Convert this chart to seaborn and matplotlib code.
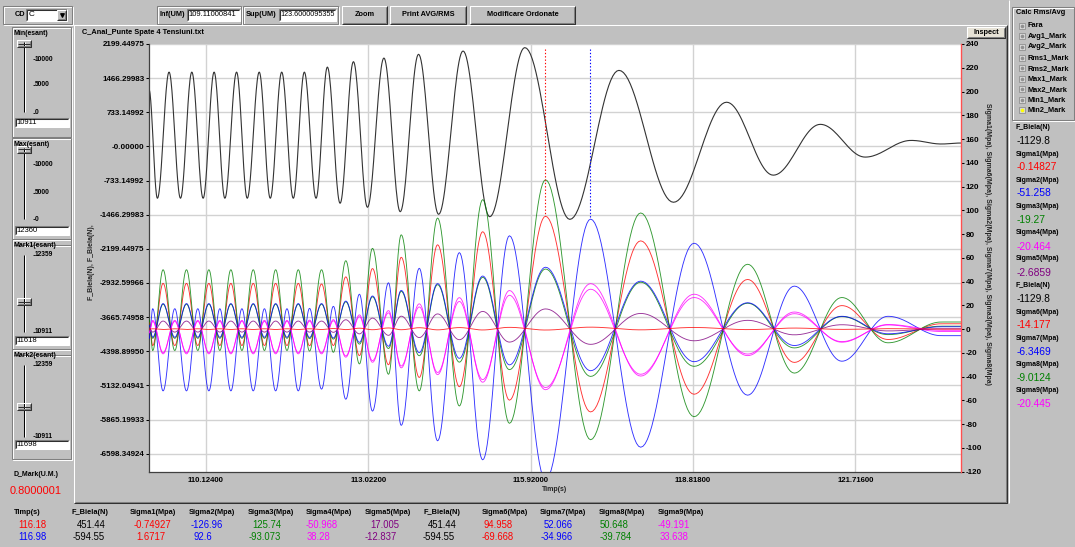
import numpy as np
import pandas as pd
import matplotlib
matplotlib.use("Agg")
import matplotlib.pyplot as plt
from matplotlib.patches import Rectangle
from matplotlib import font_manager
import seaborn as sns

# ---------------- data ----------------
x_range = [109.11000841, 123.6000095355]
x_tick_labels = ["110.12400", "113.02200", "115.92000", "118.81800", "121.71600"]
left_tick_labels = ["2199.44975", "1466.29983", "733.14992", "-0.00000", "-733.14992",
                    "-1466.29983", "-2199.44975", "-2932.59966", "-3665.74958",
                    "-4398.89950", "-5132.04941", "-5865.19933", "-6598.34924"]
left_range = [-6985.0, 2199.44975]
right_ticks = [240, 220, 200, 180, 160, 140, 120, 100, 80, 60, 40, 20, 0,
               -20, -40, -60, -80, -100, -120]
right_range = [-120, 240]

# F_Biela(N): extrema (time, value)
t_force = [109.11, 109.260, 109.468, 109.672, 109.874, 110.076, 110.272, 110.464,
           110.673, 110.863, 111.077, 111.274, 111.478, 111.685, 111.882, 112.091,
           112.293, 112.520, 112.758, 113.008, 113.302, 113.593, 113.920, 114.278,
           114.714, 115.190, 115.816, 116.620, 117.496, 118.469, 119.417, 120.250,
           121.090, 121.890, 122.712, 123.249, 123.60]
f_biela = [1222, -1113, 1596, -1113, 1596, -1113, 1596, -1113, 1596, -1113, 1596,
           -1113, 1596, -1113, 1596, -1113, 1704, -1221, 1820, -1307, 1898, -1402,
           1978, -1458, 2049, -1510, 2122, -1566, 1633, -1199, 949, -617, 474, -229,
           129, 52, 73]

# Sigma series (Mpa): extrema at shared times
t_sigma = [109.11, 109.176, 109.361, 109.570, 109.779, 109.981, 110.178, 110.374,
           110.571, 110.768, 110.970, 111.170, 111.370, 111.572, 111.774, 111.975,
           112.189, 112.400, 112.622, 112.865, 113.098, 113.384, 113.611, 113.933,
           114.260, 114.648, 115.065, 115.542, 116.186, 116.990, 117.884, 118.837,
           119.792, 120.626, 121.473, 122.296, 123.249, 123.60]
sigma1 = [0, 0.3, -0.3, 0.3, -0.3, 0.3, -0.3, 0.3, -0.3, 0.3, -0.3, 0.3, -0.3, 0.3,
          -0.3, 0.3, -0.3, 0.5, -0.4, 0.8, -0.5, 1.0, -0.5, 1.2, -0.6, 1.3, -0.7, 1.5,
          -0.75, 1.67, -0.6, 1.4, -0.4, 0.9, -0.2, 0.4, 0, 0]
sigma6 = [6, -13.8, 38.5, -13.8, 38.5, -13.8, 38.5, -13.8, 38.5, -13.8, 38.5, -13.8,
          38.5, -13.8, 38.5, -14, 38, -13.8, 44, -22.3, 51, -30, 60.5, -40.7, 71,
          -48.5, 82, -59.8, 95, -69.7, 74.3, -54.8, 41.8, -28, 19.8, -8.7, 4.5, 4.5]
sigma2 = [-8, 17.2, -52, 17.2, -52, 17.2, -52, 17.2, -52, 17.2, -52, 17.2, -52, 17.2,
          -52, 17.5, -50.5, 19.2, -59, 29.4, -69, 39, -81, 51.2, -94, 64.4, -110,
          78.6, -127, 92.6, -99.4, 72.3, -55.6, 36.2, -27, 10.8, -5.5, -5.5]
sigma7 = [3.3, -6.8, 21.5, -6.8, 21.5, -6.8, 21.5, -6.8, 21.5, -6.8, 21.5, -6.8, 21.5,
          -6.8, 21.5, -7, 21.5, -7.4, 23.6, -11.1, 27.9, -14.4, 32.6, -19.8, 38.3,
          -24.6, 44.7, -30.1, 52.1, -35, 40.4, -27.4, 22.2, -13.8, 10.8, -3.9, 2, 2]
sigma3 = [8, -18, 50, -18, 50, -18, 50, -18, 50, -18, 50, -18, 50, -18, 50, -18.5, 50,
          -19.5, 57.6, -29.3, 68, -38, 79.4, -52, 93.5, -64.7, 109, -79.3, 125.7,
          -93.1, 97.8, -73.7, 54.6, -37, 26.6, -11.5, 6, 6]
sigma8 = [3.2, -7.7, 21, -7.7, 21, -7.7, 21, -7.7, 21, -7.7, 21, -7.7, 21, -7.7, 21,
          -8, 21, -8.4, 23, -12.6, 27.2, -16.3, 31.8, -22.4, 37.4, -27.8, 43.6, -34.1,
          50.6, -39.8, 39.5, -31.3, 21.8, -15.8, 10.6, -4.6, 2.5, 2.5]
sigma4 = [-3.3, 7.4, -20.8, 7.4, -20.8, 7.4, -20.8, 7.4, -20.8, 7.4, -20.8, 7.4, -20.8,
          7.4, -20.8, 7.6, -20.8, 8, -23.6, 12, -27.9, 15.6, -32.6, 21.3, -38.3, 26.5,
          -44.7, 32.5, -51, 38.3, -39.5, 29.4, -22.3, 14.4, -11, 3.9, -1, -1]
sigma9 = [-3.1, 6.5, -19.8, 6.5, -19.8, 6.5, -19.8, 6.5, -19.8, 6.5, -19.8, 6.5, -19.8,
          6.5, -19.8, 6.7, -19.8, 7, -22.5, 10.5, -26.5, 13.7, -31, 18.7, -36.5, 23.3,
          -42.5, 28.5, -49.2, 33.6, -38, 26.6, -21, 13, -10.5, 3.5, -2, -2]
sigma5 = [1.1, -2.5, 6.8, -2.5, 6.8, -2.5, 6.8, -2.5, 6.8, -2.5, 6.8, -2.5, 6.8, -2.5,
          6.8, -2.5, 6.8, -2.7, 7.9, -4, 9.3, -5.2, 10.9, -7.1, 12.8, -8.9, 14.9,
          -10.9, 17, -12.8, 13.2, -9.8, 7.4, -4.8, 3.7, -1.5, 0.3, 0.3]

mark_t = [116.18, 116.98]
mark_v = [94.958, 92.6]

# texts of the surrounding panels
table_headers = ["Timp(s)", "F_Biela(N)", "Sigma1(Mpa)", "Sigma2(Mpa)", "Sigma3(Mpa)",
                 "Sigma4(Mpa)", "Sigma5(Mpa)", "F_Biela(N)", "Sigma6(Mpa)",
                 "Sigma7(Mpa)", "Sigma8(Mpa)", "Sigma9(Mpa)"]
table_row1 = ["116.18", "451.44", "-0.74927", "-126.96", "125.74", "-50.968", "17.005",
              "451.44", "94.958", "52.066", "50.648", "-49.191"]
table_row2 = ["116.98", "-594.55", "1.6717", "92.6", "-93.073", "38.28", "-12.837",
              "-594.55", "-69.668", "-34.966", "-39.784", "33.638"]
side_labels = ["F_Biela(N)", "Sigma1(Mpa)", "Sigma2(Mpa)", "Sigma3(Mpa)", "Sigma4(Mpa)",
               "Sigma5(Mpa)", "F_Biela(N)", "Sigma6(Mpa)", "Sigma7(Mpa)", "Sigma8(Mpa)",
               "Sigma9(Mpa)"]
side_values = ["-1129.8", "-0.14827", "-51.258", "-19.27", "-20.464", "-2.6859",
               "-1129.8", "-14.177", "-6.3469", "-9.0124", "-20.445"]
radio_items = ["Fara", "Avg1_Mark", "Avg2_Mark", "Rms1_Mark", "Rms2_Mark", "Max1_Mark",
               "Max2_Mark", "Min1_Mark", "Min2_Mark"]

# ---------------- style ----------------
GRAY = "#c0c0c0"
RED, BLUE, GREEN, MAG, PUR = "#ff0000", "#0000ff", "#008000", "#ff00ff", "#800080"
col_colors = ["black", "black", RED, BLUE, GREEN, MAG, PUR, "black", RED, BLUE, GREEN, MAG]
side_colors = ["black", RED, BLUE, GREEN, MAG, PUR, "black", RED, BLUE, GREEN, MAG]

sns.set_theme(style="white")
plt.rcParams["font.family"] = ["Liberation Sans", "DejaVu Sans"]

_names = {f.name for f in font_manager.fontManager.ttflist}
if "Liberation Sans Narrow" in _names:
    UIFONT, FS = ["Liberation Sans Narrow", "DejaVu Sans"], 1.2
else:
    UIFONT, FS = ["Liberation Sans", "DejaVu Sans"], 1.06

W, H = 1075, 547
fig = plt.figure(figsize=(W / 100, H / 100), dpi=100)
fig.patch.set_facecolor(GRAY)

bg = fig.add_axes([0, 0, 1, 1])
bg.set_xlim(0, W)
bg.set_ylim(H, 0)
bg.axis("off")
bg.set_zorder(-1)


def ln(xs, ys, c, lw=0.75, **kw):
    bg.plot(xs, ys, color=c, lw=lw, solid_capstyle="butt", **kw)


def raised(x0, y0, x1, y1, fill=None):
    if fill:
        bg.add_patch(Rectangle((x0, y0), x1 - x0, y1 - y0, fc=fill, ec="none"))
    ln([x0, x0, x1], [y1, y0, y0], "white")
    ln([x0, x1, x1], [y1, y1, y0], "#303030")
    ln([x0 + 1, x1 - 1, x1 - 1], [y1 - 1, y1 - 1, y0 + 1], "#808080")


def sunken(x0, y0, x1, y1, fill="white"):
    bg.add_patch(Rectangle((x0, y0), x1 - x0, y1 - y0, fc=fill, ec="none"))
    ln([x0, x0, x1], [y1, y0, y0], "#808080")
    ln([x0, x1, x1], [y1, y1, y0], "white")
    ln([x0 + 1, x0 + 1, x1 - 1], [y1 - 1, y0 + 1, y0 + 1], "#303030")


def etched(x0, y0, x1, y1):
    bg.add_patch(Rectangle((x0 + 1, y0 + 1), x1 - x0, y1 - y0, fc="none", ec="white", lw=0.75))
    bg.add_patch(Rectangle((x0, y0), x1 - x0, y1 - y0, fc="none", ec="#808080", lw=0.75))


def tx(x, y, s, size=5.0, bold=True, color="black", ha="left", va="center"):
    bg.text(x, y, s, fontsize=size * FS, fontweight="bold" if bold else "normal",
            color=color, ha=ha, va=va, family=UIFONT)


# ---------- top bar ----------
etched(3, 6, 72, 24)
tx(15, 15, "CD")
sunken(26, 9, 67, 21)
tx(29, 15, "C", size=5.5, bold=False)
raised(57, 10, 66, 20, fill=GRAY)
bg.scatter([61.5], [15], marker="v", s=6, color="black")
etched(157, 6, 241, 24)
tx(160, 15, "Inf(UM)")
sunken(187, 9, 240, 21)
tx(188.5, 15, "109.11000841", size=5.2, bold=False)
etched(243, 6, 338, 24)
tx(246, 15, "Sup(UM)")
sunken(279, 9, 336, 21)
tx(280.5, 15, "123.6000095355", size=4.9, bold=False)
for (a, b, s) in [(342, 387, "Zoom"), (390, 466, "Print AVG/RMS"), (470, 575, "Modificare Ordonate")]:
    raised(a, 6, b, 24, fill=GRAY)
    tx((a + b) / 2, 15, s, ha="center")

# ---------- chart panel ----------
raised(74, 25, 1007, 503)
tx(82, 32, "C_Anal_Punte Spate 4 Tensiuni.txt")
raised(967, 27, 1005, 38, fill="#e6e2d6")
tx(986, 32.5, "Inspect", ha="center")

# ---------- left panel ----------
def slider(box, track, thumb, labels, value, title):
    etched(12, box[0], 71, box[1])
    tx(14, box[0] + 6.5, title, size=4.7)
    ln([23.5, 23.5], [track[0], track[1]], "black")
    ln([24.5, 24.5], [track[0], track[1]], "white")
    raised(17, thumb - 3.5, 31, thumb + 3.5, fill=GRAY)
    ln([18, 30], [thumb, thumb], "#303030")
    for (yy, s) in labels:
        ln([33, 34.5], [yy, yy], "black", lw=0.6)
        tx(35, yy, s, size=4.5)
    sunken(15, box[1] - 19, 69, box[1] - 10)
    tx(16.5, box[1] - 14.5, value, size=5.2, bold=False)

slider((27, 137), (42, 112), 43.7, [(59.3, "10000"), (85, "5000"), (112.7, "0")], "10911", "Min(esant)")
slider((138, 245), (148, 219), 149.3, [(164, "10000"), (192.7, "5000"), (219.3, "0")], "12360", "Max(esant)")
slider((239, 355), (255, 332), 301.7, [(255, "12359"), (331.7, "10911")], "11618", "Mark1(esant)")
slider((349, 459), (365, 437), 406.7, [(365, "12359"), (436, "10911")], "11698", "Mark2(esant)")
tx(14, 475, "D_Mark(U.M.)", size=4.8)
tx(10, 491, "0.8000001", size=7.5, bold=False, color=RED)

# ---------- right panel ----------
ln([1008.5, 1008.5], [0, 503], "white")
etched(1012, 7, 1074, 120)
tx(1016, 13, "Calc Rms/Avg", size=5.0)
radio_y = [25.7, 36.3, 47, 57.7, 68.3, 79, 89.3, 99.7, 110]
for yy, s in zip(radio_y, radio_items):
    bg.add_patch(Rectangle((1019, yy - 3), 6, 6, fc="#d8d8d8", ec="#909090", lw=0.6))
    bg.scatter([1022], [yy], s=2.5, color="#ffff00" if s == "Min2_Mark" else "#909090", zorder=5)
    tx(1028, yy, s, size=5.0)
lab_y = [127.7, 154.3, 180.3, 206.7, 232.7, 259, 285.7, 312.7, 338.3, 365, 391]
val_y = [141, 167, 193.3, 219.7, 246.7, 272.7, 299.3, 325, 351.7, 378.3, 404.3]
for s, v, c, y1, y2 in zip(side_labels, side_values, side_colors, lab_y, val_y):
    tx(1016, y1, s, size=4.8)
    tx(1017, y2, v, size=7.0, bold=False, color=c)

# ---------- bottom table ----------
head_x = [14, 72, 130, 189, 248, 306, 365, 423, 482, 540, 599, 658]
row1_x = [18, 77, 134, 191, 252, 306, 370, 428, 484, 544, 600, 658]
row2_x = [18, 73, 136, 193, 249, 307, 365, 423, 482, 541, 600, 660]
for i in range(len(table_headers)):
    tx(head_x[i], 512.5, table_headers[i], size=5.0)
    c1 = RED if i == 0 else col_colors[i]
    c2 = BLUE if i == 0 else col_colors[i]
    tx(row1_x[i], 525, table_row1[i], size=6.5, bold=False, color=c1)
    tx(row2_x[i], 537.5, table_row2[i], size=6.5, bold=False, color=c2)

# ---------------- chart ----------------
def eased(tk, vk, n=24):
    ts, vs = [], []
    for i in range(len(tk) - 1):
        s = np.linspace(0, 1, n, endpoint=False)
        ts.append(tk[i] + (tk[i + 1] - tk[i]) * s)
        vs.append(vk[i] + (vk[i + 1] - vk[i]) * (1 - np.cos(np.pi * s)) / 2)
    ts.append([tk[-1]])
    vs.append([vk[-1]])
    return np.concatenate(ts), np.concatenate(vs)


ax = fig.add_axes([149 / W, 1 - 471.7 / H, (961 - 149) / W, (471.7 - 44) / H])
ax.set_facecolor("white")
ax2 = ax.twinx()

tf, vf = eased(t_force, f_biela)
df_force = pd.DataFrame({"t": tf, "v": vf})
sns.lineplot(data=df_force, x="t", y="v", ax=ax, color="#333333", lw=0.8,
             estimator=None, sort=False)

series = {"Sigma1": sigma1, "Sigma6": sigma6, "Sigma2": sigma2, "Sigma7": sigma7,
          "Sigma3": sigma3, "Sigma8": sigma8, "Sigma4": sigma4, "Sigma9": sigma9,
          "Sigma5": sigma5}
palette = {"Sigma1": RED, "Sigma6": RED, "Sigma2": BLUE, "Sigma7": BLUE,
           "Sigma3": GREEN, "Sigma8": GREEN, "Sigma4": MAG, "Sigma9": MAG,
           "Sigma5": PUR}
frames = []
for name, vals in series.items():
    ts, vs = eased(t_sigma, vals)
    frames.append(pd.DataFrame({"t": ts, "v": vs, "series": name}))
df_sig = pd.concat(frames, ignore_index=True)
draw_order = ["Sigma6", "Sigma2", "Sigma3", "Sigma8", "Sigma7", "Sigma4", "Sigma9",
              "Sigma5", "Sigma1"]
sns.lineplot(data=df_sig, x="t", y="v", hue="series", hue_order=draw_order,
             palette=palette, ax=ax2, lw=0.65, alpha=0.8, estimator=None, sort=False,
             legend=False)

for tm, vm, c in zip(mark_t, mark_v, [RED, BLUE]):
    ax2.plot([tm, tm], [236, vm], ls=(0, (1.2, 1.8)), color=c, lw=0.8)

ax.set_xlim(*x_range)
ax.set_ylim(*left_range)
ax2.set_ylim(*right_range)

tick_font = dict(fontweight="bold", family=UIFONT)
ax.set_xticks([float(s) for s in x_tick_labels])
ax.set_xticklabels(x_tick_labels, fontsize=5.3 * FS, **tick_font)
ax.set_yticks([float(s) for s in left_tick_labels])
ax.set_yticklabels(left_tick_labels, fontsize=5.4 * FS, **tick_font)
ax2.set_yticks(right_ticks)
ax2.set_yticklabels([str(v) for v in right_ticks], fontsize=5.4 * FS, **tick_font)

ax.tick_params(axis="x", length=2, width=0.75, pad=1.5, colors="black")
ax.tick_params(axis="y", length=2.5, width=0.75, pad=0.8, colors="black")
ax2.tick_params(axis="y", length=2.5, width=0.75, pad=0.8, colors="black")

ax.grid(True, color="#d2d2d2", lw=1.0)
ax.set_axisbelow(True)
ax2.grid(False)

for s in ["top", "right"]:
    ax.spines[s].set_visible(False)
for s in ["top", "left", "bottom"]:
    ax2.spines[s].set_visible(False)
ax.spines["left"].set_color("#404040")
ax.spines["bottom"].set_color("#404040")
ax.spines["left"].set_linewidth(0.9)
ax.spines["bottom"].set_linewidth(0.9)
ax2.spines["right"].set_color("#ff5050")
ax2.spines["right"].set_linewidth(1.0)

ax.set_xlabel("Timp(s)", fontsize=4.8 * FS, **tick_font)
ax.xaxis.set_label_coords(0.5, -0.033)
ax.set_ylabel("F_Biela(N), F_Biela(N),", fontsize=4.8 * FS, **tick_font)
ax.yaxis.set_label_coords((95 - 149) / 812, (471.7 - 262) / 427.7)
ax2.set_xlabel("")
ax2.set_ylabel("Sigma1(Mpa), Sigma6(Mpa), Sigma2(Mpa), Sigma7(Mpa), Sigma3(Mpa), Sigma8(Mpa)",
               fontsize=4.8 * FS, rotation=-90, va="bottom", **tick_font)
ax2.yaxis.set_label_coords((984 - 149) / 812, (471.7 - 244) / 427.7)

fig.savefig("out.png", dpi=100, facecolor=GRAY)
